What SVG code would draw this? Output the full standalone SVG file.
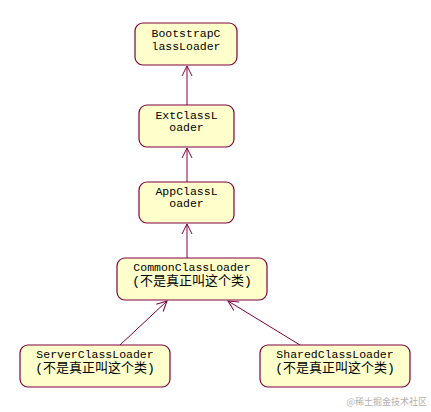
<svg xmlns="http://www.w3.org/2000/svg" width="431" height="412" viewBox="0 0 431 412">
<style>
.box{fill:#ffffcc;stroke:#800040;stroke-width:1.2}
.t{font-family:"Liberation Mono","Noto Sans CJK SC",monospace;font-size:11.5px;fill:#000;text-anchor:middle}
.z{font-size:13px}
.c{stroke:#800040;stroke-width:1;fill:none}
.wm{font-family:"Noto Sans CJK SC",sans-serif;font-size:9px;fill:#b0b0b0;text-anchor:end}
</style>
<defs>
<marker id="a" markerWidth="12" markerHeight="12" refX="11" refY="6" orient="auto" markerUnits="userSpaceOnUse">
<path d="M1,1 L11,6 L1,11" fill="none" stroke="#800040" stroke-width="1"/>
</marker>
</defs>
<rect width="431" height="412" fill="#fff"/>
<g id="connectors">
<line class="c" x1="187" y1="105" x2="187" y2="66" marker-end="url(#a)"/>
<line class="c" x1="187" y1="182" x2="187" y2="148" marker-end="url(#a)"/>
<line class="c" x1="187" y1="258" x2="187" y2="224" marker-end="url(#a)"/>
<line class="c" x1="120" y1="345" x2="167" y2="301" marker-end="url(#a)"/>
<line class="c" x1="300" y1="345" x2="228" y2="301" marker-end="url(#a)"/>
</g>
<g id="bootstrap">
<rect class="box" x="135" y="23" width="102" height="42" rx="8"/>
<text class="t" x="186" y="37">BootstrapC</text>
<text class="t" x="186" y="50">lassLoader</text>
</g>
<g id="ext">
<rect class="box" x="139" y="105" width="95" height="42" rx="8"/>
<text class="t" x="186.5" y="119">ExtClassL</text>
<text class="t" x="186.5" y="131">oader</text>
</g>
<g id="app">
<rect class="box" x="139" y="182" width="95" height="41" rx="8"/>
<text class="t" x="186.5" y="195">AppClassL</text>
<text class="t" x="186.5" y="207">oader</text>
</g>
<g id="common">
<rect class="box" x="117" y="258" width="150" height="42" rx="8"/>
<text class="t" x="192" y="271">CommonClassLoader</text>
<text class="t z" x="192" y="285">(不是真正叫这个类)</text>
</g>
<g id="server">
<rect class="box" x="20" y="345" width="150" height="42" rx="8"/>
<text class="t" x="95" y="358">ServerClassLoader</text>
<text class="t z" x="95" y="372">(不是真正叫这个类)</text>
</g>
<g id="shared">
<rect class="box" x="260" y="345" width="150" height="42" rx="8"/>
<text class="t" x="335" y="358">SharedClassLoader</text>
<text class="t z" x="335" y="372">(不是真正叫这个类)</text>
</g>
<text class="wm" x="427" y="405">@稀土掘金技术社区</text>
</svg>
